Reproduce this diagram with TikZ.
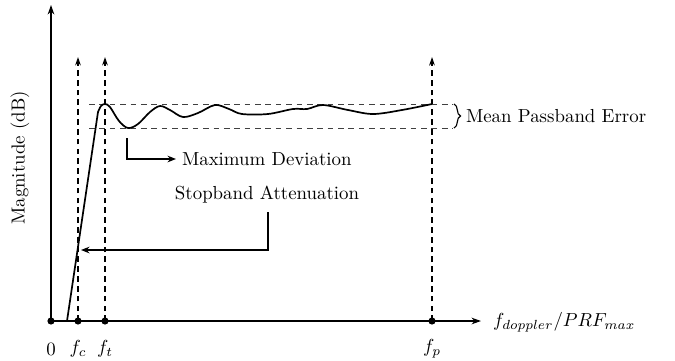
\documentclass[tikz,border=0pt]{standalone}
\usetikzlibrary{arrows.meta,decorations.pathreplacing}
\begin{document}
\begin{tikzpicture}[x=0.53pt,y=-0.53pt,
  axisline/.style={line width=0.9pt,-{Stealth[length=5pt,width=3.5pt]}},
  markline/.style={line width=0.9pt,dash pattern=on 3pt off 2.2pt,-{Stealth[length=4.5pt,width=3pt]}},
  levelline/.style={line width=0.5pt,dash pattern=on 3pt off 2.5pt,black!75},
  dot/.style={circle,fill=black,inner sep=0pt,minimum size=3.8pt},
  curve/.style={line width=0.9pt,line join=round},
  pointer/.style={line width=0.75pt,-{Stealth[length=4.5pt,width=3.5pt]}},
  lbl/.style={inner sep=3pt}]
\useasboundingbox (0,0) rectangle (675,360);
% dots on the axis
\node[dot] (O) at (51,321) {};
\node[dot] (C) at (78,321) {};
\node[dot] (T) at (105,321) {};
\node[dot] (P) at (432,321) {};
\coordinate (ytop) at (51,5);
\coordinate (xend) at (481,321);
\coordinate (Ctop) at (78,57);
\coordinate (Ttop) at (105,57);
\coordinate (Ptop) at (432,57);
% axes
\draw[axisline] (O.center) -- (ytop);
\draw[axisline] (O.center) -- (xend);
% dashed markers
\draw[markline] (C.center) -- (Ctop);
\draw[markline] (T.center) -- (Ttop);
\draw[markline] (P.center) -- (Ptop);
% level lines
\coordinate (hl1) at (89,104);
\coordinate (hr1) at (453,104);
\coordinate (hl2) at (89,128);
\coordinate (hr2) at (453,128);
\draw[levelline] (hl1) -- (hr1);
\draw[levelline] (hl2) -- (hr2);
\draw[line width=0.6pt,decorate,decoration={brace,amplitude=3.5pt}] (454,104) -- (454,128);
% response curve
\draw[curve] (67,321) -- (98,112)
  plot[smooth,tension=0.55] coordinates {(98,112) (101,106) (105,104) (110,107) (119,121) (128,128) (138,124) (150,112) (160,106) (170,110) (183,117) (198,113) (215,105) (229,109) (242,114) (268,114) (293,109) (307,109) (323,105) (348,110) (373,114) (402,110) (432,104)};
% labels
\node[lbl] (zero) at (51,349) {$0$};
\node[lbl] (fc) at (78,349) {$f_c$};
\node[lbl] (ft) at (105,349) {$f_t$};
\node[lbl] (fp) at (432,349) {$f_p$};
\node[lbl,anchor=west] (xlab) at (487,322) {$f_{doppler}/PRF_{max}$};
\node[lbl,rotate=90] (ylab) at (20,158) {Magnitude (dB)};
\node[lbl,anchor=west] (mpe) at (460,116) {Mean Passband Error};
\node[lbl,anchor=west] (mdev) at (176,159) {Maximum Deviation};
\node[lbl] (sa) at (267,195) {Stopband Attenuation};
% pointers
\coordinate (mdstart) at (127,138);
\draw[pointer] (mdstart) |- (mdev.west);
\coordinate (sastart) at (268,212);
\coordinate (satip) at (81,250);
\draw[pointer] (sastart) |- (satip);
\end{tikzpicture}
\end{document}
